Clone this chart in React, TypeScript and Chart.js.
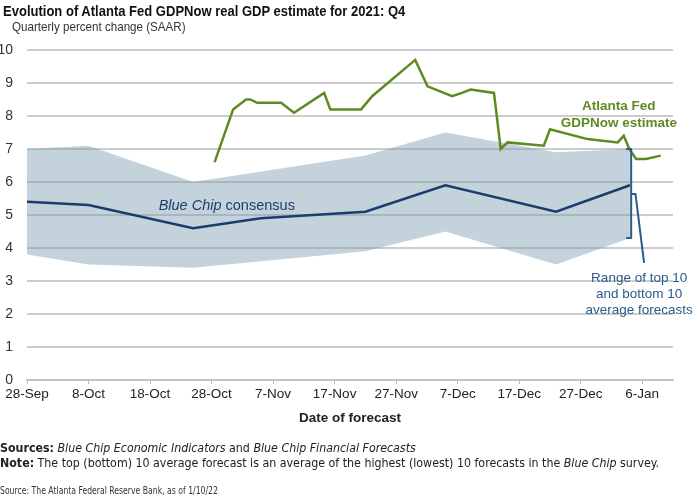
import React, { useEffect, useRef } from 'react';
import { Chart, registerables } from 'chart.js';

Chart.register(...registerables);

// ---- Data (x values are days since 28-Sep-2021) ----
const xTickDays = [0, 10, 20, 30, 40, 50, 60, 70, 80, 90, 100];
const xTickLabels = ['28-Sep', '8-Oct', '18-Oct', '28-Oct', '7-Nov', '17-Nov', '27-Nov', '7-Dec', '17-Dec', '27-Dec', '6-Jan'];

const bandDays = [0, 10, 27, 55, 68, 86, 98];
const bandUpper = [7.0, 7.1, 6.0, 6.8, 7.5, 6.9, 7.0];
const bandLower = [3.8, 3.5, 3.4, 3.9, 4.5, 3.5, 4.3];

const consensusDays = [0, 10, 27, 38, 55, 68, 86, 98];
const consensusValues = [5.4, 5.3, 4.6, 4.9, 5.1, 5.9, 5.1, 5.9];

const gdpNowDays = [30.5, 33.5, 35.6, 36.3, 37.4, 41.3, 43.4, 48.3, 49.3, 54.3, 56.1, 63.1, 65.1, 69.1, 70.7, 72.1, 75.9, 77.0, 78.1, 84.0, 85.0, 91.1, 96.0, 97.0, 97.9, 99.0, 100.6, 103.0];
const gdpNowValues = [6.6, 8.2, 8.5, 8.5, 8.4, 8.4, 8.1, 8.7, 8.2, 8.2, 8.6, 9.7, 8.9, 8.6, 8.7, 8.8, 8.7, 7.0, 7.2, 7.1, 7.6, 7.3, 7.2, 7.4, 7.0, 6.7, 6.7, 6.8];

// ---- Styles ----
const SANS = "'Liberation Sans', Arial, sans-serif";
const COND = "'DejaVu Sans Condensed', 'Liberation Sans', sans-serif";
const GREEN = '#5e8a22';
const NAVY = '#1b3d6d';
const RANGE_BLUE = '#2c5a8a';
const BAND_FILL = 'rgba(125,155,176,0.45)';
const GRID = '#cccccc';

// annotation anchors (data coordinates)
const bracketDay = 98.2;
const leaderTop = { day: 98.9, value: 5.64 };
const leaderBottom = { day: 100.3, value: 3.55 };
const rangeTextDay = 99.5;
const rangeTextValues = [3.09, 2.6, 2.12];
const rangeTextLines = ['Range of top 10', 'and bottom 10', 'average forecasts'];
const gdpLabelDay = 96.2;
const gdpLabelValues = [8.3, 7.79];
const gdpLabelLines = ['Atlanta Fed', 'GDPNow estimate'];
const consensusLabelDay = 21.4;
const consensusLabelValue = 5.27;

const toXY = (xs: number[], ys: number[]) => xs.map((x, i) => ({ x, y: ys[i] }));

const annotationPlugin = {
  id: 'annotations',
  afterDatasetsDraw(chart: any) {
    const ctx = chart.ctx as CanvasRenderingContext2D;
    const xs = chart.scales.x;
    const ys = chart.scales.y;
    const px = (d: number) => xs.getPixelForValue(d);
    const py = (v: number) => ys.getPixelForValue(v);
    ctx.save();
    // bracket for range
    const last = bandDays.length - 1;
    const bx = px(bracketDay);
    ctx.strokeStyle = RANGE_BLUE;
    ctx.lineWidth = 2;
    ctx.beginPath();
    ctx.moveTo(bx - 5, py(bandUpper[last]));
    ctx.lineTo(bx, py(bandUpper[last]));
    ctx.lineTo(bx, py(bandLower[last]));
    ctx.lineTo(bx - 5, py(bandLower[last]));
    ctx.stroke();
    // leader line
    ctx.beginPath();
    ctx.moveTo(bx, py(leaderTop.value));
    ctx.lineTo(px(leaderTop.day), py(leaderTop.value));
    ctx.lineTo(px(leaderBottom.day), py(leaderBottom.value));
    ctx.stroke();
    // range text
    ctx.fillStyle = RANGE_BLUE;
    ctx.font = `13.5px ${SANS}`;
    ctx.textAlign = 'center';
    ctx.textBaseline = 'middle';
    rangeTextLines.forEach((t, i) => ctx.fillText(t, px(rangeTextDay), py(rangeTextValues[i])));
    // GDPNow label
    ctx.fillStyle = GREEN;
    ctx.font = `bold 13.5px ${SANS}`;
    gdpLabelLines.forEach((t, i) => ctx.fillText(t, px(gdpLabelDay), py(gdpLabelValues[i])));
    // consensus label
    ctx.fillStyle = NAVY;
    ctx.textAlign = 'left';
    ctx.font = `italic 14.5px ${SANS}`;
    const part1 = 'Blue Chip';
    const x0 = px(consensusLabelDay);
    const y0 = py(consensusLabelValue);
    ctx.fillText(part1, x0, y0);
    const w1 = ctx.measureText(part1 + ' ').width;
    ctx.font = `14.5px ${SANS}`;
    ctx.fillText('consensus', x0 + w1, y0);
    ctx.restore();
  },
};

export default function App() {
  const ref = useRef<HTMLCanvasElement>(null);
  useEffect(() => {
    if (!ref.current) return;
    const chart = new Chart(ref.current, {
      type: 'line',
      data: {
        datasets: [
          {
            label: 'GDPNow',
            data: toXY(gdpNowDays, gdpNowValues),
            borderColor: GREEN,
            borderWidth: 2.5,
            pointRadius: 0,
            fill: false,
            tension: 0,
          },
          {
            label: 'Blue Chip consensus',
            data: toXY(consensusDays, consensusValues),
            borderColor: NAVY,
            borderWidth: 2.5,
            pointRadius: 0,
            fill: false,
            tension: 0,
          },
          {
            label: 'Top 10 average',
            data: toXY(bandDays, bandUpper),
            borderWidth: 0,
            borderColor: 'rgba(0,0,0,0)',
            backgroundColor: BAND_FILL,
            pointRadius: 0,
            fill: '+1',
            tension: 0,
          },
          {
            label: 'Bottom 10 average',
            data: toXY(bandDays, bandLower),
            borderWidth: 0,
            borderColor: 'rgba(0,0,0,0)',
            pointRadius: 0,
            fill: false,
            tension: 0,
          },
        ],
      },
      options: {
        animation: false,
        responsive: false,
        maintainAspectRatio: false,
        devicePixelRatio: 1,
        layout: { padding: { top: 50, right: 27, bottom: 76, left: 0 } },
        plugins: { legend: { display: false }, tooltip: { enabled: false } },
        scales: {
          x: {
            type: 'linear',
            min: 0,
            max: 105,
            afterFit: (scale: any) => { scale.height = 46; },
            afterBuildTicks: (scale: any) => { scale.ticks = xTickDays.map((v) => ({ value: v })); },
            ticks: {
              autoSkip: false,
              maxRotation: 0,
              padding: 2,
              color: '#222',
              font: { family: SANS, size: 13.5 },
              callback: (_v: any, i: number) => xTickLabels[i],
            },
            grid: { drawOnChartArea: false, drawTicks: true, tickLength: 4, color: '#bbbbbb', lineWidth: 1 },
            border: { display: true, color: '#c4c4c4', width: 2 },
            title: {
              display: true,
              text: 'Date of forecast',
              color: '#222',
              font: { family: SANS, size: 13.5, weight: 'bold' },
              padding: { top: 0, bottom: 0 },
            },
          },
          y: {
            min: 0,
            max: 10,
            afterFit: (scale: any) => { scale.width = 27; },
            ticks: {
              stepSize: 1,
              padding: 14,
              color: '#333',
              font: { family: SANS, size: 14 },
            },
            grid: { drawTicks: false, color: GRID, lineWidth: 2 },
            border: { display: false },
          },
        },
      },
      plugins: [annotationPlugin],
    } as any);
    return () => chart.destroy();
  }, []);

  return (
    <div style={{ position: 'absolute', left: 0, top: 0, width: 700, height: 502, background: '#fff', overflow: 'hidden' }}>
      <canvas ref={ref} width={700} height={502} style={{ position: 'absolute', left: 0, top: 0, width: 700, height: 502 }} />
      <div style={{ position: 'absolute', left: 3, top: 2, font: `bold 15.5px ${SANS}`, color: '#111', whiteSpace: 'nowrap', transform: 'scaleX(0.84)', transformOrigin: 'left top' }}>
        Evolution of Atlanta Fed GDPNow real GDP estimate for 2021: Q4
      </div>
      <div style={{ position: 'absolute', left: 12, top: 19, font: `13.5px ${SANS}`, color: '#333', whiteSpace: 'nowrap', transform: 'scaleX(0.86)', transformOrigin: 'left top' }}>
        Quarterly percent change (SAAR)
      </div>
      <div style={{ position: 'absolute', left: 0, top: 441, font: `12.3px ${COND}`, color: '#222', whiteSpace: 'nowrap' }}>
        <b>Sources:</b> <i>Blue Chip Economic Indicators</i> and <i>Blue Chip Financial Forecasts</i>
      </div>
      <div style={{ position: 'absolute', left: 0, top: 456, font: `12.3px ${COND}`, color: '#222', whiteSpace: 'nowrap' }}>
        <b>Note:</b> The top (bottom) 10 average forecast is an average of the highest (lowest) 10 forecasts in the <i>Blue Chip</i> survey.
      </div>
      <div style={{ position: 'absolute', left: 0, top: 484, font: `11px ${COND}`, color: '#333', whiteSpace: 'nowrap', transform: 'scaleX(0.78)', transformOrigin: 'left top' }}>
        Source: The Atlanta Federal Reserve Bank, as of 1/10/22
      </div>
    </div>
  );
}
